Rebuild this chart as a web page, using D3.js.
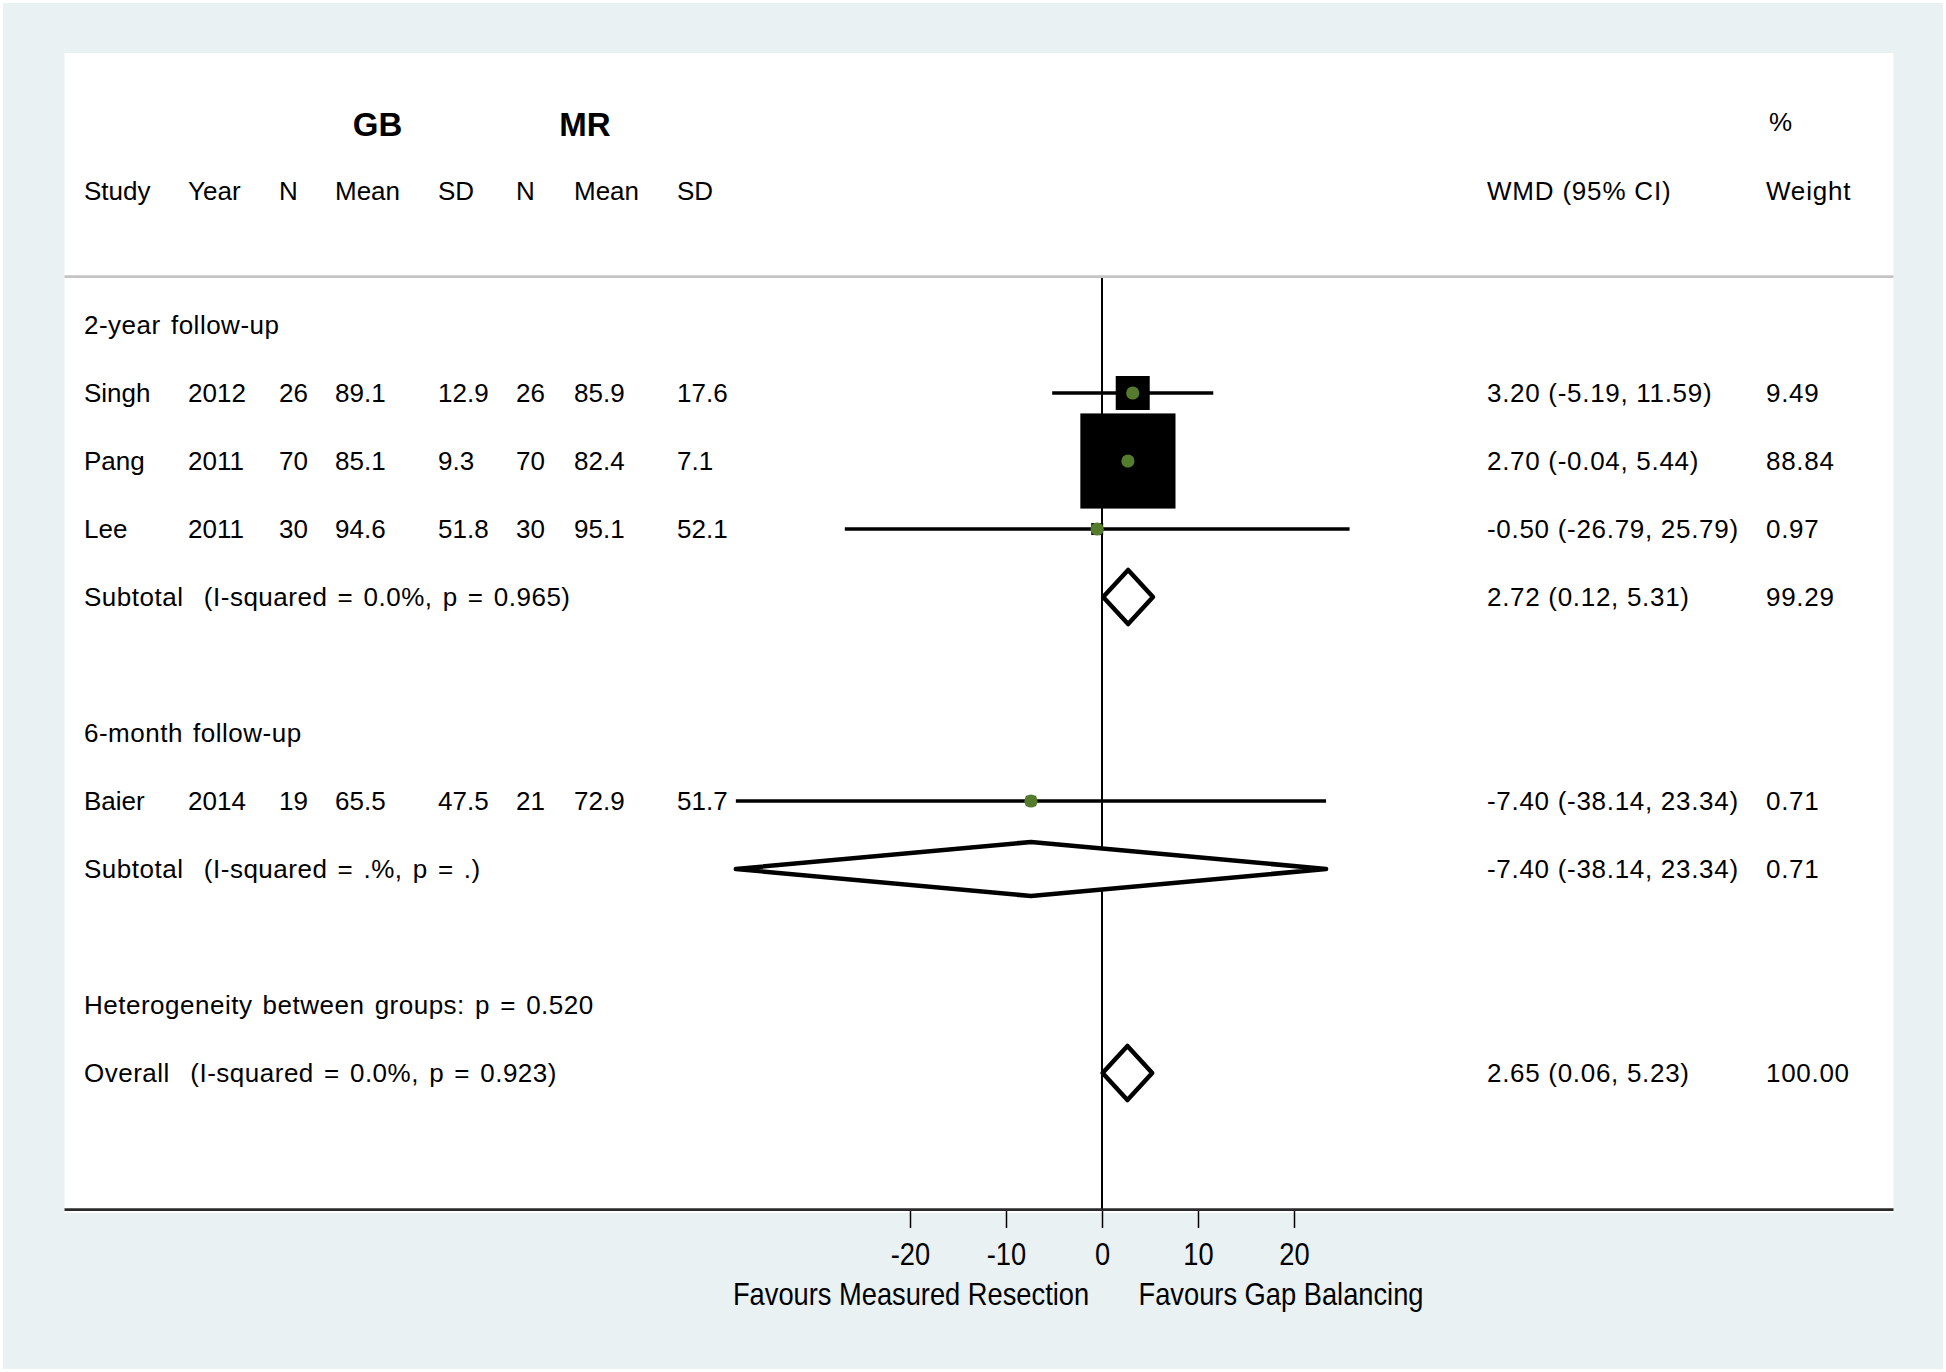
<!DOCTYPE html>
<html>
<head>
<meta charset="utf-8">
<script src="https://cdn.jsdelivr.net/npm/d3@7"></script>
<style>
  html, body { margin: 0; padding: 0; background: #ffffff; }
  svg { display: block; }
  text { font-family: "Liberation Sans", Arial, sans-serif; fill: #000; white-space: pre; }
</style>
</head>
<body>
<svg id="chart" width="1946" height="1372"></svg>
<script>
// ---------------- DATA ----------------
const studyNames   = ["Singh", "Pang", "Lee", "Baier"];
const studyYears   = ["2012", "2011", "2011", "2014"];
const studyGroup   = [0, 0, 0, 1];
const gbN          = ["26", "70", "30", "19"];
const gbMean       = ["89.1", "85.1", "94.6", "65.5"];
const gbSD         = ["12.9", "9.3", "51.8", "47.5"];
const mrN          = ["26", "70", "30", "21"];
const mrMean       = ["85.9", "82.4", "95.1", "72.9"];
const mrSD         = ["17.6", "7.1", "52.1", "51.7"];
const studyWMD     = [3.20, 2.70, -0.50, -7.40];
const studyLow     = [-5.19, -0.04, -26.79, -38.14];
const studyHigh    = [11.59, 5.44, 25.79, 23.34];
const studyWeight  = [9.49, 88.84, 0.97, 0.71];

const groupLabels  = ["2-year follow-up", "6-month follow-up"];
const summaryLabels = ["Subtotal  (I-squared = 0.0%, p = 0.965)",
                       "Subtotal  (I-squared = .%, p = .)",
                       "Overall  (I-squared = 0.0%, p = 0.923)"];
const summaryWMD    = [2.72, -7.40, 2.65];
const summaryLow    = [0.12, -38.14, 0.06];
const summaryHigh   = [5.31, 23.34, 5.23];
const summaryWeight = [99.29, 0.71, 100.00];
const heterogeneityLabel = "Heterogeneity between groups: p = 0.520";

const colHeaders   = ["Study", "Year", "N", "Mean", "SD", "N", "Mean", "SD"];
const groupHeaders = ["GB", "MR"];
const xTicks       = [-20, -10, 0, 10, 20];
const leftFavours  = "Favours Measured Resection";
const rightFavours = "Favours Gap Balancing";

// ---------------- LAYOUT ----------------
const W = 1946, H = 1372;
const panel = { x0: 64.5, x1: 1893.5, y0: 53, y1: 1210 };
const colX = [84, 188, 279, 335, 438, 516, 574, 677];
const wmdX = 1487, weightX = 1766;
const rowY0 = 393, rowStep = 68;          // row 1 centre / spacing
const rowYOf = i => rowY0 + (i - 1) * rowStep;
const fs = 26, capHalf = 0.716 * fs / 2;
const wordSp = 2.5, letterSp = 0.5;

const fmt = d3.formatLocale({decimal: ".", thousands: ",", grouping: [3], currency: ["", ""], minus: "-"});
const f2 = fmt.format(".2f");
const fTick = fmt.format("d");

const x = d3.scaleLinear().domain([-20, 20]).range([910, 1294]);
const boxSide = d3.scalePow().exponent(0.46).domain([0, 100]).range([0, 12.08 * Math.pow(100, 0.46)]);

const svg = d3.select("#chart");

// backgrounds
svg.append("rect").attr("x", 0).attr("y", 0).attr("width", W).attr("height", H).attr("fill", "#ffffff");
svg.append("rect").attr("x", 3).attr("y", 3).attr("width", W - 6).attr("height", H - 6).attr("fill", "#e9f1f3");
svg.append("rect").attr("x", panel.x0).attr("y", panel.y0)
   .attr("width", panel.x1 - panel.x0).attr("height", panel.y1 - panel.y0 + 3).attr("fill", "#ffffff");

// header separator
svg.append("line").attr("x1", panel.x0).attr("x2", panel.x1).attr("y1", 276.7).attr("y2", 276.7)
   .attr("stroke", "#c4c4c4").attr("stroke-width", 2.7);

// header texts
const gbCenters = [377.5, 585];
svg.selectAll("text.grp").data(groupHeaders).join("text").attr("class", "grp")
   .attr("x", (d, i) => gbCenters[i]).attr("y", 124 + 0.716 * 33 / 2)
   .attr("text-anchor", "middle").attr("font-size", 33).attr("font-weight", "bold").text(d => d);
svg.selectAll("text.colh").data(colHeaders).join("text").attr("class", "colh")
   .attr("x", (d, i) => colX[i]).attr("y", 191 + capHalf)
   .attr("font-size", fs).text(d => d);
svg.append("text").attr("x", wmdX).attr("y", 191 + capHalf).attr("font-size", fs)
   .attr("letter-spacing", 0.8).text("WMD (95% CI)");
svg.append("text").attr("x", weightX).attr("y", 191 + capHalf).attr("font-size", fs)
   .attr("letter-spacing", 0.8).text("Weight");
svg.append("text").attr("x", 1769).attr("y", 122 + capHalf).attr("font-size", fs).text("%");

// build rows
const studyRows = [1, 2, 3, 7];
const groupRows = [0, 6];
const summaryRows = [4, 8, 11];
const hetRow = 10;

// zero line
svg.append("line").attr("x1", x(0)).attr("x2", x(0)).attr("y1", 278).attr("y2", 1211)
   .attr("stroke", "#000").attr("stroke-width", 2);

// group labels
svg.selectAll("text.glab").data(groupLabels).join("text").attr("class", "glab")
   .attr("x", colX[0]).attr("y", (d, i) => rowYOf(groupRows[i]) + capHalf)
   .attr("font-size", fs).attr("word-spacing", wordSp).attr("letter-spacing", letterSp).text(d => d);

// study rows text
studyNames.forEach((name, i) => {
  const y = rowYOf(studyRows[i]) + capHalf;
  const cells = [name, studyYears[i], gbN[i], gbMean[i], gbSD[i], mrN[i], mrMean[i], mrSD[i]];
  cells.forEach((c, j) => {
    svg.append("text").attr("x", colX[j]).attr("y", y).attr("font-size", fs).text(c);
  });
  svg.append("text").attr("x", wmdX).attr("y", y).attr("font-size", fs).attr("letter-spacing", 0.7)
     .text(`${f2(studyWMD[i])} (${f2(studyLow[i])}, ${f2(studyHigh[i])})`);
  svg.append("text").attr("x", weightX).attr("y", y).attr("font-size", fs).attr("letter-spacing", 0.7)
     .text(f2(studyWeight[i]));
});

// study markers
const sg = svg.append("g");
studyNames.forEach((name, i) => {
  const cy = rowYOf(studyRows[i]);
  sg.append("line").attr("x1", x(studyLow[i])).attr("x2", x(studyHigh[i]))
    .attr("y1", cy).attr("y2", cy).attr("stroke", "#000").attr("stroke-width", 3.5);
  const s = boxSide(studyWeight[i]);
  sg.append("rect").attr("x", x(studyWMD[i]) - s / 2).attr("y", cy - s / 2)
    .attr("width", s).attr("height", s).attr("fill", "#000");
  sg.append("circle").attr("cx", x(studyWMD[i])).attr("cy", cy).attr("r", 6.6).attr("fill", "#557b2c");
});

// summary rows
const dh = 27;
summaryLabels.forEach((lab, i) => {
  const cy = rowYOf(summaryRows[i]);
  svg.append("text").attr("x", colX[0]).attr("y", cy + capHalf).attr("font-size", fs)
     .attr("word-spacing", wordSp).attr("letter-spacing", letterSp).text(lab);
  svg.append("text").attr("x", wmdX).attr("y", cy + capHalf).attr("font-size", fs).attr("letter-spacing", 0.7)
     .text(`${f2(summaryWMD[i])} (${f2(summaryLow[i])}, ${f2(summaryHigh[i])})`);
  svg.append("text").attr("x", weightX).attr("y", cy + capHalf).attr("font-size", fs).attr("letter-spacing", 0.7)
     .text(f2(summaryWeight[i]));
  const pts = [[x(summaryLow[i]), cy], [x(summaryWMD[i]), cy - dh], [x(summaryHigh[i]), cy], [x(summaryWMD[i]), cy + dh]];
  svg.append("path").attr("d", d3.line()(pts) + "Z")
     .attr("fill", "#ffffff").attr("stroke", "#000").attr("stroke-width", 4.5).attr("stroke-linejoin", "round");
});

// heterogeneity
svg.append("text").attr("x", colX[0]).attr("y", rowYOf(hetRow) + capHalf).attr("font-size", fs)
   .attr("word-spacing", wordSp).attr("letter-spacing", letterSp).text(heterogeneityLabel);

// bottom axis
svg.append("line").attr("x1", panel.x0).attr("x2", panel.x1).attr("y1", 1209.7).attr("y2", 1209.7)
   .attr("stroke", "#2a2a2a").attr("stroke-width", 2.7);
const ax = svg.append("g").attr("transform", "translate(0,1211)")
   .call(d3.axisBottom(x).tickValues(xTicks).tickFormat(fTick).tickSize(17));
ax.select(".domain").remove();
ax.selectAll(".tick line").attr("stroke", "#000").attr("stroke-width", 1.5);
ax.selectAll(".tick text").attr("y", 54).attr("dy", null)
  .attr("font-size", 31).attr("font-family", "'Liberation Sans', Arial, sans-serif")
  .attr("fill", "#000").attr("transform", "scale(0.88,1)");

// favours labels
const favY = 1305;
svg.append("text").attr("transform", `translate(${x(-20) + 1},${favY}) scale(0.88,1)`)
   .attr("text-anchor", "middle").attr("font-size", 31).text(leftFavours);
svg.append("text").attr("transform", `translate(${x(20) - 13},${favY}) scale(0.88,1)`)
   .attr("text-anchor", "middle").attr("font-size", 31).text(rightFavours);
</script>
</body>
</html>
